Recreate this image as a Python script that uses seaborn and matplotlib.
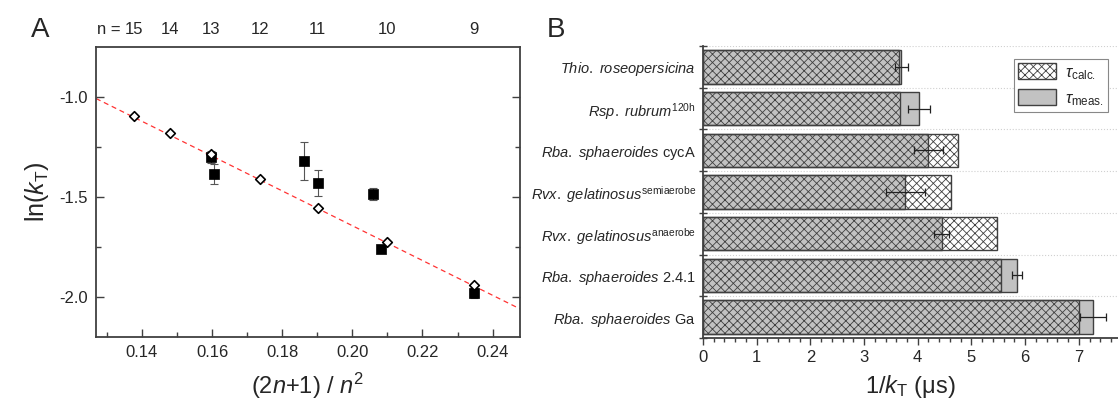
"""
Two-panel figure: triplet decay rate vs (2n+1)/n^2 (A) and
measured vs calculated triplet lifetimes per species (B).
"""
import numpy as np
import pandas as pd
import matplotlib
matplotlib.use("Agg")
import matplotlib.pyplot as plt
from matplotlib.patches import Patch
from matplotlib.ticker import MultipleLocator, FixedLocator
import seaborn as sns

sns.set_style("ticks")
plt.rcParams["font.family"] = ["Liberation Sans", "DejaVu Sans"]
plt.rcParams["mathtext.fontset"] = "custom"
plt.rcParams["mathtext.rm"] = "Liberation Sans"
plt.rcParams["mathtext.it"] = "Liberation Sans:italic"
plt.rcParams["axes.unicode_minus"] = False
plt.rcParams["hatch.linewidth"] = 0.6

# Panel A data
n_values = [15, 14, 13, 12, 11, 10, 9]
calc_ln_k = [-1.097, -1.183, -1.287, -1.41, -1.555, -1.728, -1.94]
meas_x = [0.1598, 0.1604, 0.1863, 0.1902, 0.2058, 0.2081, 0.2346]
meas_ln_k = [-1.30, -1.385, -1.32, -1.43, -1.488, -1.763, -1.983]
meas_err = [0.03, 0.05, 0.095, 0.065, 0.03, 0.012, 0.025]
fit_slope = -8.7
fit_intercept = 0.095

# Panel B data
species = [
    r"$\mathit{Thio.\ roseopersicina}$",
    r"$\mathit{Rsp.\ rubrum}^{\mathrm{120h}}$",
    r"$\mathit{Rba.\ sphaeroides}$ cycA",
    r"$\mathit{Rvx.\ gelatinosus}^{\mathrm{semiaerobe}}$",
    r"$\mathit{Rvx.\ gelatinosus}^{\mathrm{anaerobe}}$",
    r"$\mathit{Rba.\ sphaeroides}$ 2.4.1",
    r"$\mathit{Rba.\ sphaeroides}$ Ga",
]
tau_calc = [3.65, 3.67, 4.75, 4.62, 5.48, 5.56, 7.0]
tau_meas = [3.69, 4.02, 4.20, 3.77, 4.45, 5.85, 7.27]
tau_meas_err = [0.12, 0.20, 0.27, 0.36, 0.14, 0.10, 0.24]

n_x = [(2 * n + 1) / n**2 for n in n_values]
df_calc = pd.DataFrame({"x": n_x, "y": calc_ln_k})
df_meas = pd.DataFrame({"x": meas_x, "y": meas_ln_k, "err": meas_err})
df_bars = pd.DataFrame({"species": species, "calc": tau_calc,
                        "meas": tau_meas, "err": tau_meas_err})

spine_col = "#404040"
gray_fill = "#c2c2c2"

fig = plt.figure(figsize=(11.18, 4.03), dpi=100)
axA = fig.add_axes([0.0859, 0.1645, 0.3792, 0.7196])
axB = fig.add_axes([0.6288, 0.1613, 0.3712, 0.7246])

# ---------- Panel A ----------
axA.axline((0, fit_intercept), slope=fit_slope, color="red",
           ls=(0, (4, 3)), lw=0.9, alpha=0.8, zorder=1)
axA.errorbar(df_meas["x"], df_meas["y"], yerr=df_meas["err"], fmt="none",
             ecolor="#555555", elinewidth=0.8, capsize=3, capthick=0.8, zorder=2)
sns.scatterplot(data=df_meas, x="x", y="y", marker="s", color="black",
                s=62, edgecolor="black", linewidth=0.5, ax=axA, zorder=3)
sns.scatterplot(data=df_calc, x="x", y="y", marker="D", facecolor="white",
                edgecolor="black", s=24, linewidth=1.2, ax=axA, zorder=4)

axA.set_xlim(0.1269, 0.2478)
axA.set_ylim(-2.2, -0.75)
axA.xaxis.set_major_locator(MultipleLocator(0.02))
axA.xaxis.set_minor_locator(MultipleLocator(0.01))
axA.yaxis.set_major_locator(FixedLocator([-2.0, -1.5, -1.0]))
axA.yaxis.set_minor_locator(FixedLocator([-1.75, -1.25]))
axA.xaxis.set_major_formatter(matplotlib.ticker.FormatStrFormatter("%.2f"))
axA.yaxis.set_major_formatter(matplotlib.ticker.FormatStrFormatter("%.1f"))
axA.tick_params(which="both", direction="in", color=spine_col,
                labelsize=12, width=1, right=True, pad=6)
axA.tick_params(which="major", length=6)
axA.tick_params(which="minor", length=3.5)
for sp in axA.spines.values():
    sp.set_color(spine_col)
    sp.set_linewidth(1.3)
axA.set_xlabel(r"(2$n$+1) / $n^2$", fontsize=17, labelpad=8)
axA.set_ylabel(r"ln($k_\mathrm{T}$)", fontsize=18, labelpad=6)

top = axA.secondary_xaxis("top")
top.set_xticks(n_x, labels=[str(n) for n in n_values])
top.tick_params(length=0, labelsize=12, pad=7)
top.spines["top"].set_visible(False)
axA.annotate("n = ", xy=(n_x[0], 1.0), xycoords=("data", "axes fraction"),
             xytext=(-6.5, 7), textcoords="offset points",
             ha="right", va="bottom", fontsize=12)

# ---------- Panel B ----------
sns.barplot(data=df_bars, y="species", x="meas", orient="h", color=gray_fill,
            saturation=1, width=0.8, edgecolor=spine_col, linewidth=1.0, ax=axB)
n_meas_bars = len(axB.patches)
sns.barplot(data=df_bars, y="species", x="calc", orient="h", color="white",
            saturation=1, width=0.8, fill=False, edgecolor=spine_col,
            linewidth=1.0, ax=axB)
for p in axB.patches[n_meas_bars:]:
    p.set_hatch("xxxx")
    p.set_facecolor("none")
    p.set_edgecolor(spine_col)

ypos = np.arange(len(species))
axB.errorbar(df_bars["meas"], ypos, xerr=df_bars["err"], fmt="none",
             ecolor="#222222", elinewidth=0.9, capsize=3, capthick=0.9, zorder=5)

axB.set_xlim(0, 7.73)
axB.set_ylim(len(species) - 0.5, -0.5)
axB.xaxis.set_major_locator(MultipleLocator(1))
axB.xaxis.set_minor_locator(MultipleLocator(0.2))
axB.yaxis.set_minor_locator(FixedLocator(np.arange(len(species) + 1) - 0.5))
axB.tick_params(axis="x", which="both", direction="out", color=spine_col,
                labelsize=12, width=1)
axB.tick_params(axis="x", which="major", length=5)
axB.tick_params(axis="x", which="minor", length=3)
axB.tick_params(axis="y", which="major", length=0, labelsize=10.5, pad=5)
axB.tick_params(axis="y", which="minor", direction="inout", length=6,
                width=1, color=spine_col)
axB.grid(axis="y", which="minor", color="#d0d0d0", ls=":", lw=0.8)
axB.set_axisbelow(True)
for side in ["top", "right"]:
    axB.spines[side].set_visible(False)
for side in ["left", "bottom"]:
    axB.spines[side].set_color(spine_col)
    axB.spines[side].set_linewidth(1.3)
axB.set_xlabel(r"1/$k_\mathrm{T}$ (μs)", fontsize=17, labelpad=6)
axB.set_ylabel("")

handles = [
    Patch(facecolor="white", edgecolor=spine_col, hatch="xxxx", linewidth=1.0),
    Patch(facecolor=gray_fill, edgecolor=spine_col, linewidth=1.0),
]
leg = axB.legend(handles, [r"$\mathit{\tau}_{\mathrm{calc.}}$",
                           r"$\mathit{\tau}_{\mathrm{meas.}}$"],
                 loc="upper left", bbox_to_anchor=(0.749, 0.955),
                 borderaxespad=0, fontsize=12, handlelength=2.3,
                 handleheight=1.1, handletextpad=0.5, labelspacing=0.45,
                 fancybox=False, framealpha=1, borderpad=0.25)
leg.get_frame().set_edgecolor("#888888")
leg.get_frame().set_linewidth(0.8)

fig.text(0.036, 0.926, "A", fontsize=20, ha="center", va="center")
fig.text(0.497, 0.926, "B", fontsize=20, ha="center", va="center")

fig.savefig("out.png", dpi=100)
